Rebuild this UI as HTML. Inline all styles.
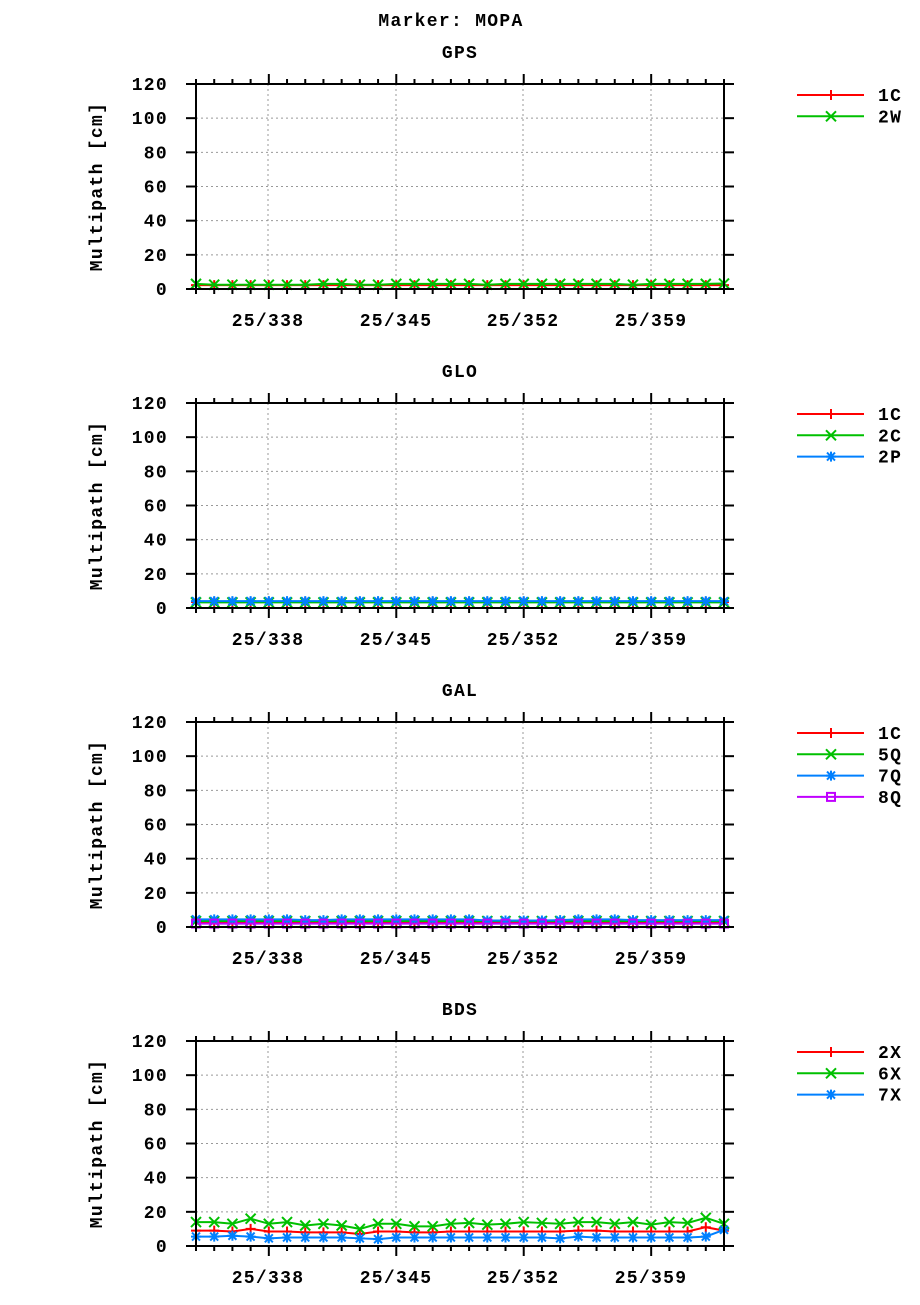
<!DOCTYPE html>
<html><head><meta charset="utf-8"><style>
body{margin:0;background:#fff;}
svg text{font-family:"Liberation Mono",monospace;font-weight:bold;font-size:18px;letter-spacing:1.3px;fill:#000;}
</style></head><body>
<svg id="s" width="920" height="1300" xmlns="http://www.w3.org/2000/svg">
<text x="451" y="26" text-anchor="middle">Marker: MOPA</text>
</svg>
<script>
const S=document.getElementById('s');const NS='http://www.w3.org/2000/svg';
function el(t,a,txt){const e=document.createElementNS(NS,t);for(const k in a)e.setAttribute(k,a[k]);if(txt!==undefined)e.textContent=txt;S.appendChild(e);return e;}
const L=196,R=724,step=(R-L)/29;
const cols={r:'#ff0000',g:'#00c000',b:'#0080ff',p:'#c000ff'};
function marker(x,y,m,c){
 if(m==='+'){el('path',{d:`M${x-5} ${y}h10M${x} ${y-5}v10`,stroke:c,'stroke-width':2});}
 else if(m==='x'){el('path',{d:`M${x-5} ${y-5}l10 10M${x-5} ${y+5}l10 -10`,stroke:c,'stroke-width':2});}
 else if(m==='*'){el('path',{d:`M${x-5} ${y}h10M${x} ${y-5}v10M${x-4} ${y-4}l8 8M${x-4} ${y+4}l8 -8`,stroke:c,'stroke-width':2});}
 else if(m==='s'){el('rect',{x:x-4,y:y-4,width:8,height:8,fill:'none',stroke:c,'stroke-width':2});}
}
function panel(top,title,series){
 const bot=top+205,sc=205/120;
 el('text',{x:460,y:top-26,'text-anchor':'middle'},title);
 for(let v=20;v<=100;v+=20){const y=bot-v*sc;el('line',{x1:L,x2:R,y1:y,y2:y,stroke:'#999','stroke-dasharray':'2,3','stroke-width':1});}
 [268,396,523,651].forEach(x=>el('line',{x1:x,x2:x,y1:top,y2:bot,stroke:'#999','stroke-dasharray':'2,3','stroke-width':1}));
 series.forEach(s=>{
  const pts=s.v.map((v,i)=>[L+i*step,bot-v*sc]);
  el('polyline',{points:pts.map(p=>p.join(',')).join(' '),fill:'none',stroke:cols[s.c],'stroke-width':2});
  pts.forEach(p=>marker(p[0],p[1],s.m,cols[s.c]));
 });
 el('rect',{x:L,y:top,width:R-L,height:bot-top,fill:'none',stroke:'#000','stroke-width':2});
 for(let v=0;v<=120;v+=20){const y=bot-v*sc;el('line',{x1:L-10,x2:L,y1:y,y2:y,stroke:'#000','stroke-width':2});el('line',{x1:R,x2:R+10,y1:y,y2:y,stroke:'#000','stroke-width':2});
  el('text',{x:168,y:y+6,'text-anchor':'end'},String(v));}
 for(let i=0;i<30;i++){const x=L+i*step;const maj=[4,11,18,25].includes(i);const len=maj?10:5;
  el('line',{x1:x,x2:x,y1:bot,y2:bot+len,stroke:'#000','stroke-width':2});el('line',{x1:x,x2:x,y1:top-len,y2:top,stroke:'#000','stroke-width':2});}
 [[268,'25/338'],[396,'25/345'],[523,'25/352'],[651,'25/359']].forEach(a=>el('text',{x:a[0],y:bot+37,'text-anchor':'middle'},a[1]));
 el('text',{x:102,y:(top+bot)/2,'text-anchor':'middle',transform:`rotate(-90 102 ${(top+bot)/2})`},'Multipath [cm]');
 series.forEach((s,i)=>{const y=top+11+i*21.3;el('line',{x1:797,x2:864,y1:y,y2:y,stroke:cols[s.c],'stroke-width':2});marker(831,y,s.m,cols[s.c]);
  el('text',{x:878,y:y+6},s.n);});
}
const c=(v)=>Array(30).fill(v);
panel(84,'GPS',[{n:'1C',c:'r',m:'+',v:c(2.3)},{n:'2W',c:'g',m:'x',v:[3,2.5,2.5,2.5,2.5,2.5,2.5,3,3,2.5,2.5,3,3,3,3,3,2.5,3,3,3,3,3,3,3,2.5,3,3,3,3,3.2]}]);
panel(403,'GLO',[{n:'1C',c:'r',m:'+',v:c(3.5)},{n:'2C',c:'g',m:'x',v:c(3.3)},{n:'2P',c:'b',m:'*',v:c(4)}]);
panel(722,'GAL',[{n:'1C',c:'r',m:'+',v:c(2.8)},{n:'5Q',c:'g',m:'x',v:c(3.5)},{n:'7Q',c:'b',m:'*',v:[4.5,4.5,4.5,4.5,4.5,4.5,4,4,4.5,4.5,4.5,4.5,4.5,4.5,4.5,4.5,3.8,3.8,3.8,3.8,4,4.5,4.5,4.5,4,4,4,4,4,4]},{n:'8Q',c:'p',m:'s',v:c(2)}]);
panel(1041,'BDS',[
 {n:'2X',c:'r',m:'+',v:[9,9,8.5,10,8.5,8.5,8,8,8,7,8.5,8.5,8,8,8.5,8.5,8.5,8.5,8.5,8.5,8.5,9,9,8.5,8.5,8.5,8.5,8.5,11,9]},
 {n:'6X',c:'g',m:'x',v:[14,14,13,16,13,14,12,13,12,10,13,13,11.5,11.5,13,13.5,12.5,13,14,13.5,13,14,14,13,14,12.5,14,13.5,16.5,13]},
 {n:'7X',c:'b',m:'*',v:[5.5,5.5,6,5.5,4.5,5,5,5,5,4.5,4,5,5,5,5,5,5,5,5,5,4.5,5.5,5,5,5,5,5,5,5.5,9.5]}]);
</script>
</body></html>
